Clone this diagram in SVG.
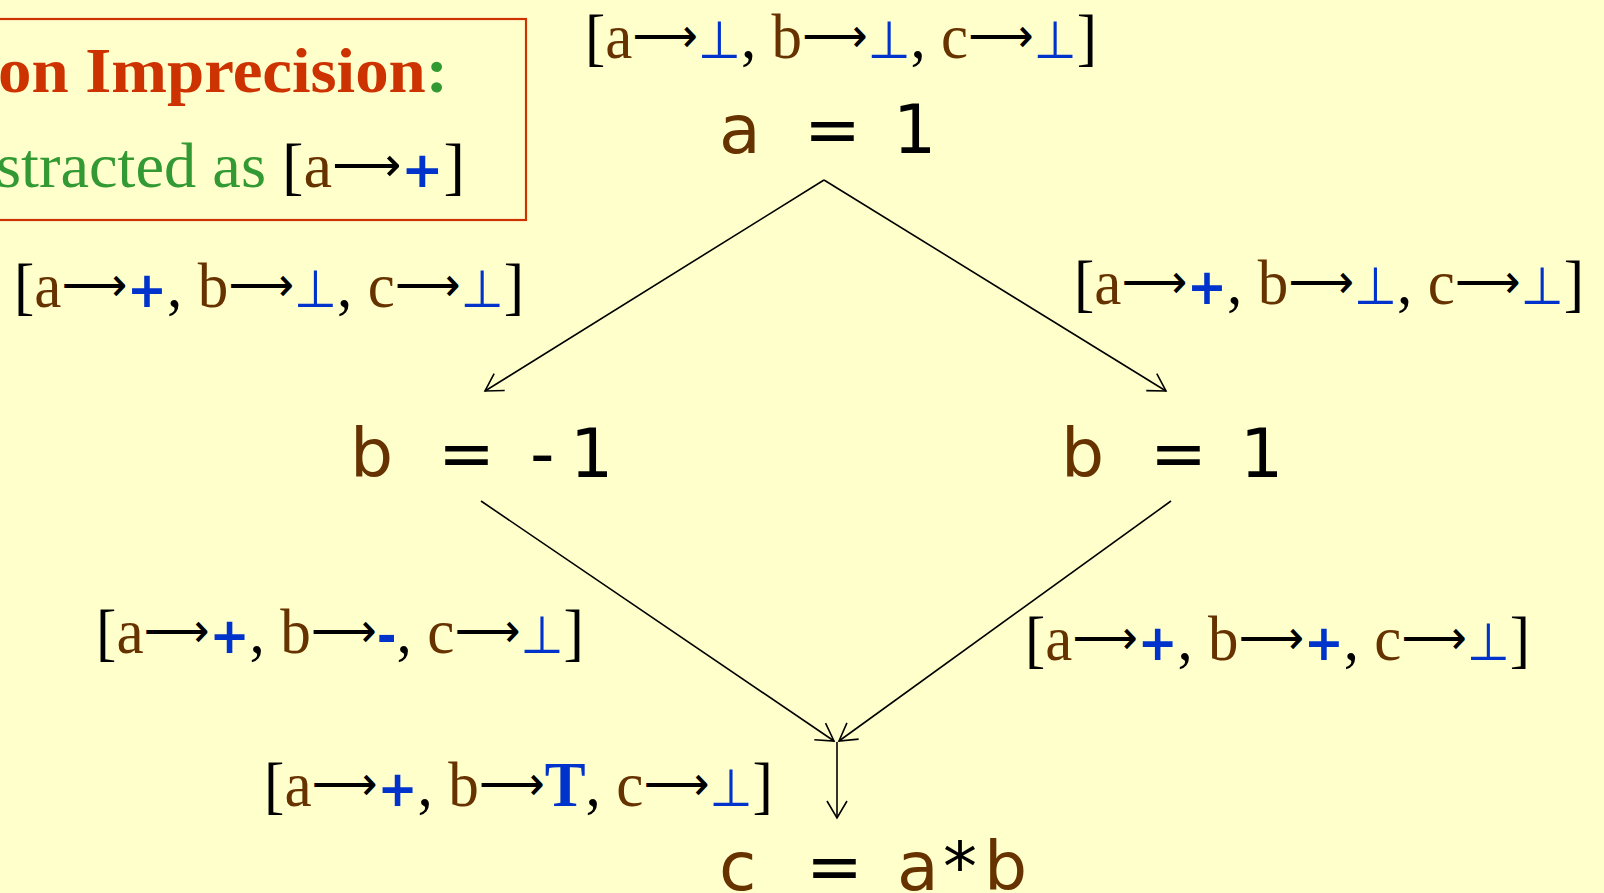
<svg xmlns="http://www.w3.org/2000/svg" width="1604" height="893" viewBox="0 0 1604 893">
<defs>
<style>
.lbl{font-family:"Liberation Serif","Times New Roman",serif;font-size:64px;fill:#000}
.br{fill:#663300}
.bl{fill:#0033CC;font-family:"DejaVu Sans",sans-serif;font-size:52px}
.bb{fill:#0033CC;font-weight:bold}
.bp{fill:#0033CC;font-weight:bold;font-family:"DejaVu Sans",sans-serif;font-size:50px}
.ar{font-family:"DejaVu Sans",sans-serif;font-size:48px;fill:#000}
.gr{fill:#339933}
.st{font-family:"DejaVu Sans",Verdana,sans-serif;font-size:68px;fill:#000}
.edge{stroke:#000;stroke-width:1.6;fill:none}
</style>
<marker id="arr" markerUnits="userSpaceOnUse" markerWidth="40" markerHeight="40" viewBox="-30 -20 40 40" refX="0" refY="0" orient="auto">
<path d="M-17,-10 L0,0 L-17,10" fill="none" stroke="#000" stroke-width="1.6"/>
</marker>
</defs>
<rect x="0" y="0" width="1604" height="893" fill="#FFFFCC"/>

<g id="note">
<rect x="-10" y="19" width="536" height="201" fill="none" stroke="#CC3300" stroke-width="2.2"/>
<text x="-2" y="92" class="lbl" font-weight="bold" fill="#CC3300" textLength="450" lengthAdjust="spacingAndGlyphs"><tspan fill="#CC3300">on Imprecision</tspan><tspan class="gr">:</tspan></text>
<text x="-4" y="187" class="lbl" textLength="469" lengthAdjust="spacingAndGlyphs"><tspan class="gr">stracted as </tspan>[<tspan class="br">a</tspan><tspan class="ar" dy="-6">⟶</tspan><tspan class="bp" dy="6">+</tspan>]</text>
</g>

<g id="connectors">
<line class="edge" x1="824" y1="180" x2="485" y2="391" marker-end="url(#arr)"/>
<line class="edge" x1="824" y1="180" x2="1166" y2="391" marker-end="url(#arr)"/>
<line class="edge" x1="481" y1="501" x2="834" y2="741" marker-end="url(#arr)"/>
<line class="edge" x1="1171" y1="501" x2="839" y2="741" marker-end="url(#arr)"/>
<line class="edge" x1="837" y1="742" x2="837" y2="818" marker-end="url(#arr)"/>
</g>

<g id="label-top">
<text x="585" y="58" class="lbl" textLength="512" lengthAdjust="spacingAndGlyphs">[<tspan class="br">a</tspan><tspan class="ar" dy="-6">⟶</tspan><tspan class="bl" dy="6">⊥</tspan>, <tspan class="br">b</tspan><tspan class="ar" dy="-6">⟶</tspan><tspan class="bl" dy="6">⊥</tspan>, <tspan class="br">c</tspan><tspan class="ar" dy="-6">⟶</tspan><tspan class="bl" dy="6">⊥</tspan>]</text>
</g>

<g id="node-a1">
<text y="153" class="st"><tspan x="719" class="br">a</tspan><tspan x="804">=</tspan><tspan x="893">1</tspan></text>
</g>

<g id="label-left">
<text x="14" y="307" class="lbl" textLength="510" lengthAdjust="spacingAndGlyphs">[<tspan class="br">a</tspan><tspan class="ar" dy="-6">⟶</tspan><tspan class="bp" dy="6">+</tspan>, <tspan class="br">b</tspan><tspan class="ar" dy="-6">⟶</tspan><tspan class="bl" dy="6">⊥</tspan>, <tspan class="br">c</tspan><tspan class="ar" dy="-6">⟶</tspan><tspan class="bl" dy="6">⊥</tspan>]</text>
</g>

<g id="label-right">
<text x="1074" y="304" class="lbl" textLength="510" lengthAdjust="spacingAndGlyphs">[<tspan class="br">a</tspan><tspan class="ar" dy="-6">⟶</tspan><tspan class="bp" dy="6">+</tspan>, <tspan class="br">b</tspan><tspan class="ar" dy="-6">⟶</tspan><tspan class="bl" dy="6">⊥</tspan>, <tspan class="br">c</tspan><tspan class="ar" dy="-6">⟶</tspan><tspan class="bl" dy="6">⊥</tspan>]</text>
</g>

<g id="node-bneg">
<text y="477" class="st"><tspan x="350" class="br">b</tspan><tspan x="438">=</tspan><tspan x="530">-</tspan><tspan x="570">1</tspan></text>
</g>

<g id="node-bpos">
<text y="477" class="st"><tspan x="1061" class="br">b</tspan><tspan x="1150">=</tspan><tspan x="1240">1</tspan></text>
</g>

<g id="label-lowleft">
<text x="96" y="653" class="lbl" textLength="488" lengthAdjust="spacingAndGlyphs">[<tspan class="br">a</tspan><tspan class="ar" dy="-6">⟶</tspan><tspan class="bp" dy="6">+</tspan>, <tspan class="br">b</tspan><tspan class="ar" dy="-6">⟶</tspan><tspan class="bp" dy="6">-</tspan>, <tspan class="br">c</tspan><tspan class="ar" dy="-6">⟶</tspan><tspan class="bl" dy="6">⊥</tspan>]</text>
</g>

<g id="label-lowright">
<text x="1025" y="660" class="lbl" textLength="505" lengthAdjust="spacingAndGlyphs">[<tspan class="br">a</tspan><tspan class="ar" dy="-6">⟶</tspan><tspan class="bp" dy="6">+</tspan>, <tspan class="br">b</tspan><tspan class="ar" dy="-6">⟶</tspan><tspan class="bp" dy="6">+</tspan>, <tspan class="br">c</tspan><tspan class="ar" dy="-6">⟶</tspan><tspan class="bl" dy="6">⊥</tspan>]</text>
</g>

<g id="label-join">
<text x="264" y="806" class="lbl" textLength="509" lengthAdjust="spacingAndGlyphs">[<tspan class="br">a</tspan><tspan class="ar" dy="-6">⟶</tspan><tspan class="bp" dy="6">+</tspan>, <tspan class="br">b</tspan><tspan class="ar" dy="-6">⟶</tspan><tspan class="bb" dy="6">T</tspan>, <tspan class="br">c</tspan><tspan class="ar" dy="-6">⟶</tspan><tspan class="bl" dy="6">⊥</tspan>]</text>
</g>

<g id="node-c">
<text y="890" class="st"><tspan x="719" class="br">c</tspan><tspan x="806">=</tspan><tspan x="897" class="br">a</tspan><tspan x="943">*</tspan><tspan x="984" class="br">b</tspan></text>
</g>
</svg>
